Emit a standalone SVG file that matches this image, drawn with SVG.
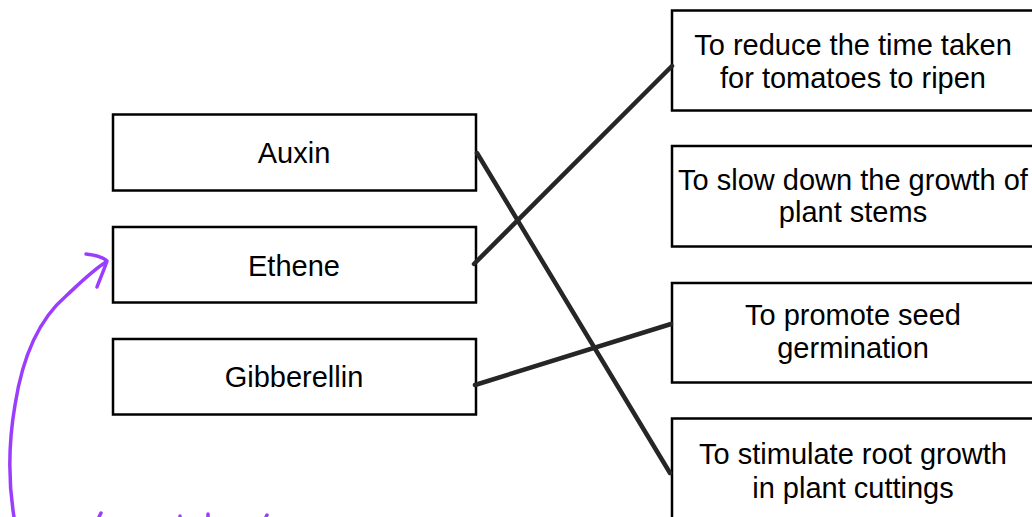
<svg xmlns="http://www.w3.org/2000/svg" width="1032" height="517" viewBox="0 0 1032 517">
  <style>
    .box { fill: #ffffff; stroke: #000000; stroke-width: 2.5; }
    .label { font-family: "Liberation Sans", Arial, sans-serif; font-size: 29px; fill: #000000; text-anchor: middle; }
    .link { stroke: #262626; stroke-width: 4.5; stroke-linecap: round; fill: none; }
    .ink { stroke: #9b3dff; stroke-width: 3.5; stroke-linecap: round; stroke-linejoin: round; fill: none; }
  </style>
  <rect width="1032" height="517" fill="#ffffff"/>

  <!-- hormones -->
  <g id="auxin">
    <rect class="box" x="113" y="114.5" width="363" height="76"/>
    <text class="label" x="294" y="163">Auxin</text>
  </g>
  <g id="ethene">
    <rect class="box" x="113" y="227" width="363" height="75.5"/>
    <text class="label" x="294" y="275.5">Ethene</text>
  </g>
  <g id="gibberellin">
    <rect class="box" x="113" y="339" width="363" height="75.5"/>
    <text class="label" x="294" y="387">Gibberellin</text>
  </g>

  <!-- uses (boxes run past the right edge) -->
  <g id="use-ripen">
    <rect class="box" x="672" y="10.5" width="380" height="100"/>
    <text class="label" x="853" y="55">To reduce the time taken</text>
    <text class="label" x="853" y="88">for tomatoes to ripen</text>
  </g>
  <g id="use-slow-stems">
    <rect class="box" x="672" y="146" width="380" height="100.5"/>
    <text class="label" x="853" y="190">To slow down the growth of</text>
    <text class="label" x="853" y="222">plant stems</text>
  </g>
  <g id="use-germination">
    <rect class="box" x="672" y="283" width="380" height="99.5"/>
    <text class="label" x="853" y="325">To promote seed</text>
    <text class="label" x="853" y="358">germination</text>
  </g>
  <g id="use-roots">
    <rect class="box" x="672" y="418.5" width="380" height="110"/>
    <text class="label" x="853" y="464">To stimulate root growth</text>
    <text class="label" x="853" y="498">in plant cuttings</text>
  </g>

  <!-- matching lines -->
  <g id="connectors">
    <line class="link" x1="477" y1="153" x2="670" y2="473"/>
    <line class="link" x1="474" y1="264" x2="672" y2="66"/>
    <line class="link" x1="475" y1="385" x2="671" y2="324"/>
  </g>

  <!-- handwritten annotation -->
  <g id="annotation">
    <path class="ink" d="M14 517 C 8 480, 9 440, 15 405 C 22 360, 38 320, 66 296 C 80 283, 93 270, 106 262"/>
    <path class="ink" d="M86 254 C 95 255, 103 257, 107 261 C 104 270, 100 279, 97 287"/>
    <path class="ink" d="M99 517 L 101 513"/>
    <path class="ink" d="M180 517 L 180 516"/>
    <path class="ink" d="M208 517 L 208 514"/>
    <path class="ink" d="M266 517 L 267 515"/>
  </g>
</svg>
